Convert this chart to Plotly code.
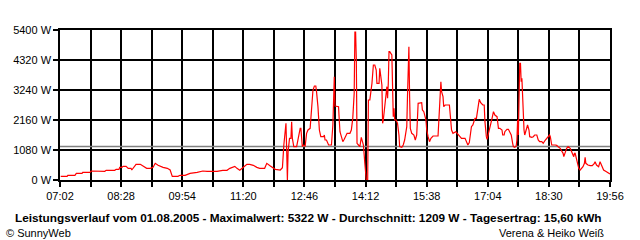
import plotly.graph_objects as go

# time of day in minutes after midnight, and power in W
minutes = [423, 432, 433, 443, 445, 453, 454, 464, 466, 468, 470, 485, 487, 499, 501, 505, 506, 509, 511, 515,
           518, 522, 523, 526, 529, 535, 539, 544, 549, 553, 556, 560, 567, 573, 577, 580, 588, 591, 598, 605,
           615, 623, 629, 643, 651, 657, 661, 665, 668, 671, 675, 680, 685, 689, 694, 699, 703, 710, 713, 718,
           725, 732, 735, 737, 739, 740, 741, 742, 743, 745, 747, 748, 749, 751, 755, 757, 760, 761, 763, 764,
           767, 769, 771, 774, 776, 778, 780, 782, 783, 785, 787, 789, 793, 794, 795, 797, 800, 804, 806, 807,
           808, 809, 814, 815, 816, 818, 820, 822, 824, 826, 830, 832, 834, 836, 837, 838, 839, 840, 842, 844,
           846, 847, 849, 851, 853, 855, 856, 858, 861, 863, 865, 867, 868, 871, 872, 875, 876, 877, 879, 881,
           882, 883, 884, 885, 886, 889, 890, 891, 892, 893, 895, 897, 899, 900, 903, 905, 907, 910, 911, 913,
           914, 915, 917, 920, 922, 924, 926, 929, 931, 932, 934, 937, 938, 940, 942, 944, 946, 947, 954, 955,
           957, 958, 959, 961, 962, 964, 970, 972, 973, 975, 979, 981, 983, 985, 987, 992, 994, 996, 998, 999,
           1001, 1003, 1005, 1006, 1008, 1010, 1012, 1014, 1017, 1019, 1020, 1022, 1023, 1025, 1027, 1030, 1032, 1034, 1037, 1038,
           1039, 1041, 1044, 1045, 1047, 1048, 1050, 1051, 1053, 1055, 1057, 1059, 1060, 1062, 1064, 1065, 1066, 1067, 1068, 1069,
           1070, 1071, 1072, 1073, 1074, 1075, 1076, 1077, 1079, 1080, 1082, 1083, 1086, 1088, 1090, 1093, 1095, 1097, 1100, 1102,
           1105, 1107, 1109, 1111, 1112, 1113, 1114, 1119, 1121, 1123, 1126, 1128, 1130, 1131, 1133, 1135, 1137, 1140, 1141, 1144,
           1145, 1146, 1147, 1149, 1151, 1152, 1154, 1155, 1158, 1160, 1161, 1162, 1165, 1168, 1171, 1174, 1175, 1177, 1180, 1182,
           1183, 1185, 1187, 1191, 1194, 1196]
watts = [132, 132, 168, 168, 240, 240, 276, 276, 324, 324, 312, 312, 348, 348, 384, 384, 456, 456, 492, 492,
         420, 420, 360, 456, 564, 564, 504, 420, 420, 456, 600, 528, 456, 420, 360, 132, 132, 168, 168, 240,
         276, 324, 312, 312, 348, 348, 420, 456, 492, 420, 348, 456, 564, 564, 528, 456, 420, 420, 600, 504,
         384, 360, 444, 1260, 1740, 2040, 1080, 0, 1020, 1500, 1500, 2100, 1500, 1200, 1200, 1500, 1860, 1860, 1200, 1260,
         1224, 1680, 1800, 1860, 2640, 3240, 3384, 3384, 3180, 2640, 1800, 1560, 1560, 1620, 1440, 1440, 1260, 1260, 1980, 3000,
         3720, 2664, 2640, 2160, 1740, 1560, 1380, 1464, 1560, 1680, 1680, 1800, 2220, 3120, 5322, 5322, 4320, 1320, 1260, 1200,
         1536, 1440, 1260, 600, 0, 0, 2880, 2880, 3480, 4140, 4140, 3960, 3480, 3480, 4020, 3420, 2040, 2160, 2640, 3360,
         3360, 2940, 3480, 4620, 4620, 4500, 3240, 2280, 2580, 2160, 2160, 2040, 1620, 1200, 1176, 1260, 1440, 1920, 3000, 4800,
         3000, 1860, 1680, 1620, 1440, 1620, 2760, 2784, 2784, 2520, 2460, 2160, 1824, 1560, 1380, 1500, 1536, 1584, 1584, 2040,
         3000, 3540, 3180, 3000, 2640, 2700, 2700, 2160, 1800, 1680, 1740, 1680, 1620, 1560, 1500, 1500, 1380, 1260, 1344, 1620,
         1920, 1980, 2160, 2220, 2220, 2520, 2904, 2784, 2700, 2700, 2100, 1560, 1464, 1680, 1860, 2220, 2460, 2340, 2280, 2100,
         1860, 1860, 1800, 1620, 1620, 1740, 1800, 1824, 1824, 1704, 1620, 1320, 1200, 1176, 1224, 1440, 2160, 1620, 3540, 4200,
         4200, 3540, 3660, 2760, 2100, 1800, 1620, 1740, 1920, 1980, 1800, 1560, 1536, 1560, 1620, 1620, 1440, 1380, 1380, 1320,
         1440, 1500, 1560, 1620, 1560, 1320, 1260, 1260, 1248, 1200, 1140, 1044, 960, 840, 1020, 1140, 1200, 1140, 1080, 900,
         840, 960, 960, 744, 480, 420, 360, 384, 480, 600, 816, 600, 540, 516, 516, 600, 660, 540, 480, 660,
         600, 480, 360, 300, 240, 216]

average_w = 1209
x_tick_minutes = [422 + 43 * i for i in range(19)]
x_tick_labels = ["07:02", "", "08:28", "", "09:54", "", "11:20", "", "12:46", "",
                 "14:12", "", "15:38", "", "17:04", "", "18:30", "", "19:56"]
y_tick_values = [0, 1080, 2160, 3240, 4320, 5400]
y_tick_labels = ["0 W", "1080 W", "2160 W", "3240 W", "4320 W", "5400 W"]

title_text = ("Leistungsverlauf vom 01.08.2005 - Maximalwert: 5322 W - "
              "Durchschnitt: 1209 W - Tagesertrag: 15,60 kWh")

fig = go.Figure()
fig.add_trace(go.Scatter(x=[422, 1196], y=[average_w, average_w], mode="lines",
                         line=dict(color="#808080", width=1.5), hoverinfo="skip"))
fig.add_trace(go.Scatter(x=minutes, y=watts, mode="lines",
                         line=dict(color="#ff0000", width=1.2)))

font = "Liberation Sans, Arial, sans-serif"
fig.update_layout(
    width=640, height=240,
    margin=dict(l=60, r=30, t=30, b=60),
    paper_bgcolor="white", plot_bgcolor="white",
    showlegend=False,
    font=dict(family=font, size=11, color="black"),
    xaxis=dict(range=[422, 1196], tickmode="array", tickvals=x_tick_minutes, ticktext=x_tick_labels,
               showgrid=True, gridcolor="black", gridwidth=1.5, ticks="outside", ticklen=5,
               tickcolor="black", tickwidth=1.5, showline=True, linecolor="black", linewidth=1.5,
               mirror=True, zeroline=False, tickfont=dict(family=font, size=11)),
    yaxis=dict(range=[0, 5400], tickmode="array", tickvals=y_tick_values, ticktext=y_tick_labels,
               showgrid=True, gridcolor="black", gridwidth=1.5, ticks="outside", ticklen=5,
               tickcolor="black", tickwidth=1.5, showline=True, linecolor="black", linewidth=1.5,
               mirror=True, zeroline=False, tickfont=dict(family=font, size=11)),
    annotations=[
        dict(text="<b>" + title_text + "</b>", x=0.451, y=-0.253, xref="paper", yref="paper",
             xanchor="center", yanchor="middle", showarrow=False, font=dict(family=font, size=11.8)),
        dict(text="© SunnyWeb", x=-0.102, y=-0.35, xref="paper", yref="paper",
             xanchor="left", yanchor="middle", showarrow=False, font=dict(family=font, size=11)),
        dict(text="Verena & Heiko Weiß", x=0.9927, y=-0.35, xref="paper", yref="paper",
             xanchor="right", yanchor="middle", showarrow=False, font=dict(family=font, size=11)),
    ],
)

fig.write_html("out.html")
